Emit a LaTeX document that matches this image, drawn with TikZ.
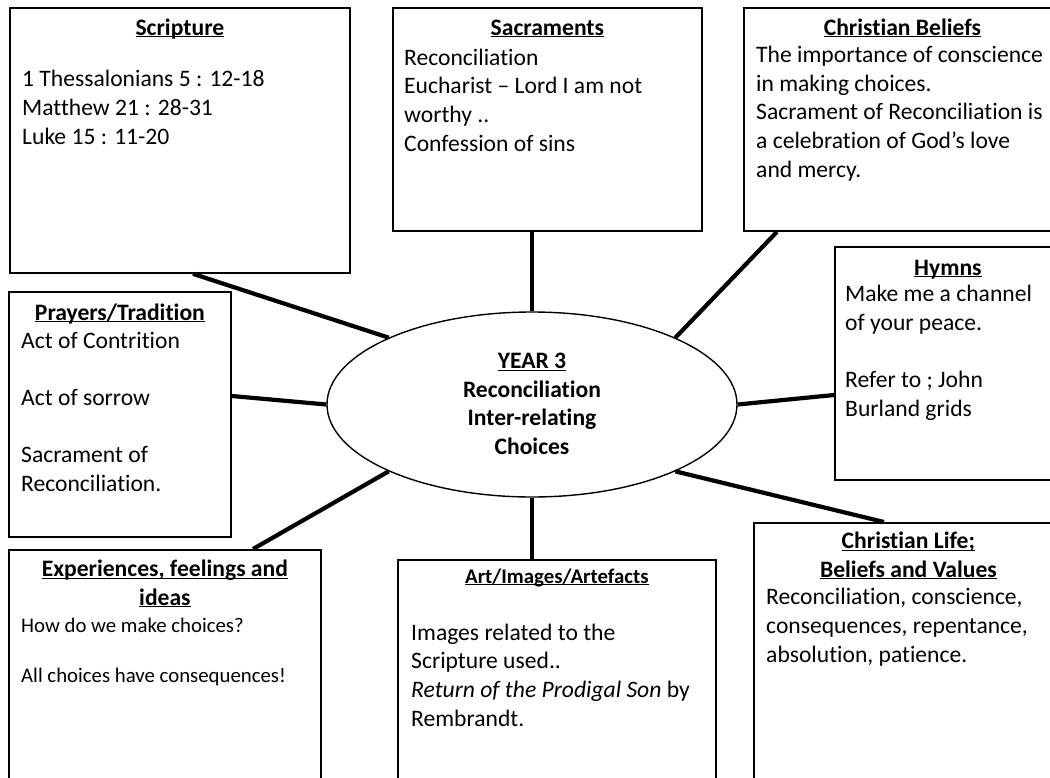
\documentclass[tikz,border=0pt]{standalone}
\usepackage{fontspec}
\setmainfont{Carlito}[Ligatures={TeX,NoCommon}]
\usetikzlibrary{shapes.geometric, calc}
\newcommand{\bodysize}{\fontsize{23.6}{28.6}\selectfont}
\newcommand{\smallsize}{\fontsize{20.8}{25}\selectfont}
\newcommand{\ulhead}[1]{\underline{\smash{#1}}}

\begin{document}
\begin{tikzpicture}[x=1pt, y=-1pt]
    \tikzstyle{card} = [rectangle, draw, line width=1.8pt, anchor=north west, inner sep=0pt]
    \tikzstyle{heading} = [align=center, anchor=base, inner sep=0pt, font=\bodysize\bfseries]
    \tikzstyle{body} = [align=left, anchor=base west, inner sep=0pt, font=\bodysize]
    \tikzstyle{spoke} = [line width=4.2pt]

    \useasboundingbox (0,0) rectangle (1050,777);
    \clip (0,0) rectangle (1050,777);

    % centre
    \node[ellipse, draw, line width=1.4pt, minimum width=410pt, minimum height=185pt, inner sep=0pt] (core) at (532,404.5) {};
    \node[heading, anchor=center] (coretitle) at ([shift={(0,7)}]core.center) {\ulhead{YEAR 3}\\Reconciliation\\Inter-relating\\Choices};

    % boxes
    \node[card, minimum width=340pt, minimum height=265pt] (scripture) at (9,7) {};
    \node[card, minimum width=309pt, minimum height=223pt] (sacraments) at (392,7) {};
    \node[card, minimum width=317pt, minimum height=223pt] (beliefs) at (743,7) {};
    \node[card, minimum width=226pt, minimum height=233pt] (hymns) at (834,246) {};
    \node[card, minimum width=222pt, minimum height=245pt] (prayers) at (8,291) {};
    \node[card, minimum width=312pt, minimum height=260pt] (experiences) at (8,549) {};
    \node[card, minimum width=318pt, minimum height=260pt] (art) at (397,559) {};
    \node[card, minimum width=309pt, minimum height=280pt] (life) at (753,522) {};

    % headings (base = last line)
    \node[heading] (scripturehead) at ([shift={(0,28)}]scripture.north) {\ulhead{Scripture}};
    \node[heading] (sacramentshead) at ([shift={(0,28)}]sacraments.north) {\ulhead{Sacraments}};
    \node[heading] (beliefshead) at ([shift={(0,28)}]beliefs.north) {\ulhead{Christian Beliefs}};
    \node[heading] (hymnshead) at ([shift={(0,29)}]hymns.north) {\ulhead{Hymns}};
    \node[heading] (prayershead) at ([shift={(0,29)}]prayers.north) {\ulhead{Prayers/Tradition}};
    \node[heading] (experienceshead) at ([shift={(0,56)}]experiences.north) {\ulhead{Experiences, feelings and}\\\ulhead{ideas}};
    \node[heading, font=\smallsize\bfseries] (arthead) at ([shift={(0,24)}]art.north) {\ulhead{Art/Images/Artefacts}};
    \node[heading] (lifehead) at ([shift={(0,55)}]life.north) {\ulhead{Christian Life;}\\\ulhead{Beliefs and Values}};

    % texts (base = last line)
    \node[body] (scripturetext) at ([shift={(13,137)}]scripture.north west) {1 Thessalonians 5 : 12-18\\Matthew 21 : 28-31\\Luke 15 : 11-20};
    \node[body] (sacramentstext) at ([shift={(12,144)}]sacraments.north west) {Reconciliation\\Eucharist – Lord I am not\\worthy ..\\Confession of sins};
    \node[body] (beliefstext) at ([shift={(13,170)}]beliefs.north west) {The importance of conscience\\in making choices.\\Sacrament of Reconciliation is\\a celebration of God’s love\\and mercy.};
    \node[body] (hymnstext) at ([shift={(11,170)}]hymns.north west) {Make me a channel\\of your peace.\\[28.6pt]Refer to ; John\\Burland grids};
    \node[body] (prayerstext) at ([shift={(13,200)}]prayers.north west) {Act of Contrition\\[28.6pt]Act of sorrow\\[28.6pt]Sacrament of\\Reconciliation.};
    \node[body, font=\smallsize] (experiencestext) at ([shift={(13,133)}]experiences.north west) {How do we make choices?\\[25pt]All choices have consequences!};
    \node[body] (arttext) at ([shift={(14,167)}]art.north west) {Images related to the\\Scripture used..\\\textit{Return of the Prodigal Son} by\\Rembrandt.};
    \node[body] (lifetext) at ([shift={(13,140)}]life.north west) {Reconciliation, conscience,\\consequences, repentance,\\absolution, patience.};

    % spokes
    \draw[spoke] ([xshift=13pt]scripture.south) -- (core.155);
    \draw[spoke] (core.north |- sacraments.south) -- (core.north);
    \draw[spoke] ([xshift=34pt]beliefs.south west) -- (core.25);
    \draw[spoke] ([shift={(0,149)}]hymns.north west) -- (core.east);
    \draw[spoke] ([shift={(0,105)}]prayers.north east) -- (core.west);
    \draw[spoke] ([shift={(245,0)}]experiences.north west) -- (core.205);
    \draw[spoke] (core.south) -- (core.south |- art.north);
    \draw[spoke] ([shift={(131,0)}]life.north west) -- (core.335);
\end{tikzpicture}
\end{document}
